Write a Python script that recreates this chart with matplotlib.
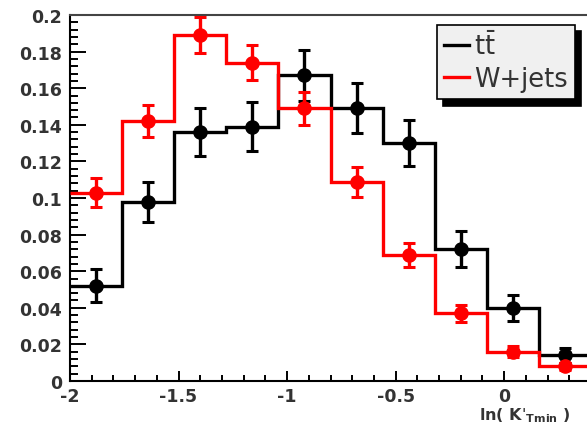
import matplotlib
matplotlib.use("Agg")
import matplotlib.pyplot as plt
from matplotlib.lines import Line2D
from matplotlib.ticker import MultipleLocator, FuncFormatter
import numpy as np

plt.rcParams['font.family'] = ['DejaVu Sans']
plt.rcParams['mathtext.fontset'] = 'dejavusans'
plt.rcParams['axes.unicode_minus'] = False

# bin edges of ln(K'_Tmin)
bin_edges = [-2.0, -1.76, -1.52, -1.28, -1.04, -0.80, -0.56, -0.32, -0.08, 0.16, 0.40]

# ttbar
tt_vals = [0.052, 0.098, 0.136, 0.139, 0.167, 0.149, 0.130, 0.072, 0.040, 0.014]
tt_errs = [0.009, 0.011, 0.013, 0.0135, 0.014, 0.0137, 0.0126, 0.0098, 0.007, 0.004]

# W+jets
wj_vals = [0.103, 0.142, 0.189, 0.174, 0.149, 0.109, 0.069, 0.037, 0.016, 0.008]
wj_errs = [0.0077, 0.0087, 0.010, 0.0096, 0.009, 0.0082, 0.0066, 0.0046, 0.003, 0.002]

W, H = 587, 427
fig = plt.figure(figsize=(W / 100, H / 100), dpi=100)
ax = fig.add_axes([70 / W, (H - 382) / H, (591 - 70) / W, (382 - 16) / H])

edges = np.array(bin_edges)
centers = 0.5 * (edges[:-1] + edges[1:])

for vals, errs, col, z in [(tt_vals, tt_errs, 'black', 2), (wj_vals, wj_errs, 'red', 3)]:
    ax.stairs(vals, edges, baseline=None, color=col, lw=2.4, zorder=z)
    ax.errorbar(centers, vals, yerr=errs, fmt='o', color=col, ms=9.5,
                elinewidth=2.4, capsize=4.3, capthick=2.2, zorder=z)

ax.set_xlim(-2, 0.4)
ax.set_ylim(0, 0.2)

ax.xaxis.set_major_locator(MultipleLocator(0.5))
ax.xaxis.set_minor_locator(MultipleLocator(0.1))
ax.xaxis.set_major_formatter(FuncFormatter(lambda v, p: '%g' % round(v, 3)))
ax.yaxis.set_major_locator(MultipleLocator(0.02))
ax.yaxis.set_minor_locator(MultipleLocator(0.004))
ax.yaxis.set_major_formatter(FuncFormatter(lambda v, p: '%g' % round(v, 3)))

ax.tick_params(axis='both', which='both', direction='in', width=1.4, colors='black',
               labelcolor='#333333', labelsize=12.5, top=False, right=False)
ax.tick_params(axis='y', which='major', length=11.5, pad=5.5)
ax.tick_params(axis='y', which='minor', length=5.8)
ax.tick_params(axis='x', which='major', length=7.2, pad=4.5)
ax.tick_params(axis='x', which='minor', length=4.3)
for lab in ax.get_xticklabels() + ax.get_yticklabels():
    lab.set_fontweight('bold')

for s in ax.spines.values():
    s.set_linewidth(1.5)
ax.spines['top'].set_color('#444444')

handles = [Line2D([0], [0], color='black', lw=2.4),
           Line2D([0], [0], color='red', lw=2.4)]
leg = ax.legend(handles, [r't$\bar{\mathrm{t}}$', 'W+jets'], loc='upper left',
                bbox_to_anchor=(437 / W, 1 - 26 / H), bbox_transform=fig.transFigure,
                borderaxespad=0, fancybox=False, framealpha=1, facecolor='#f0f0f0',
                edgecolor='black', fontsize=18.5, handlelength=0.95, handletextpad=0.2,
                borderpad=0.28, labelspacing=0.22,
                shadow={'ox': 4.5, 'oy': -4.5, 'color': 'black', 'alpha': 1})
leg.get_frame().set_linewidth(1.2)
for t in leg.get_texts():
    t.set_color('#333333')

fig.text(479 / W, 1 - 420 / H, r"ln( K$'_{\mathbf{Tmin}}$ )", ha='left', va='baseline',
         fontsize=11.5, fontweight='bold', color='#333333')

fig.savefig('out.png', dpi=100)
